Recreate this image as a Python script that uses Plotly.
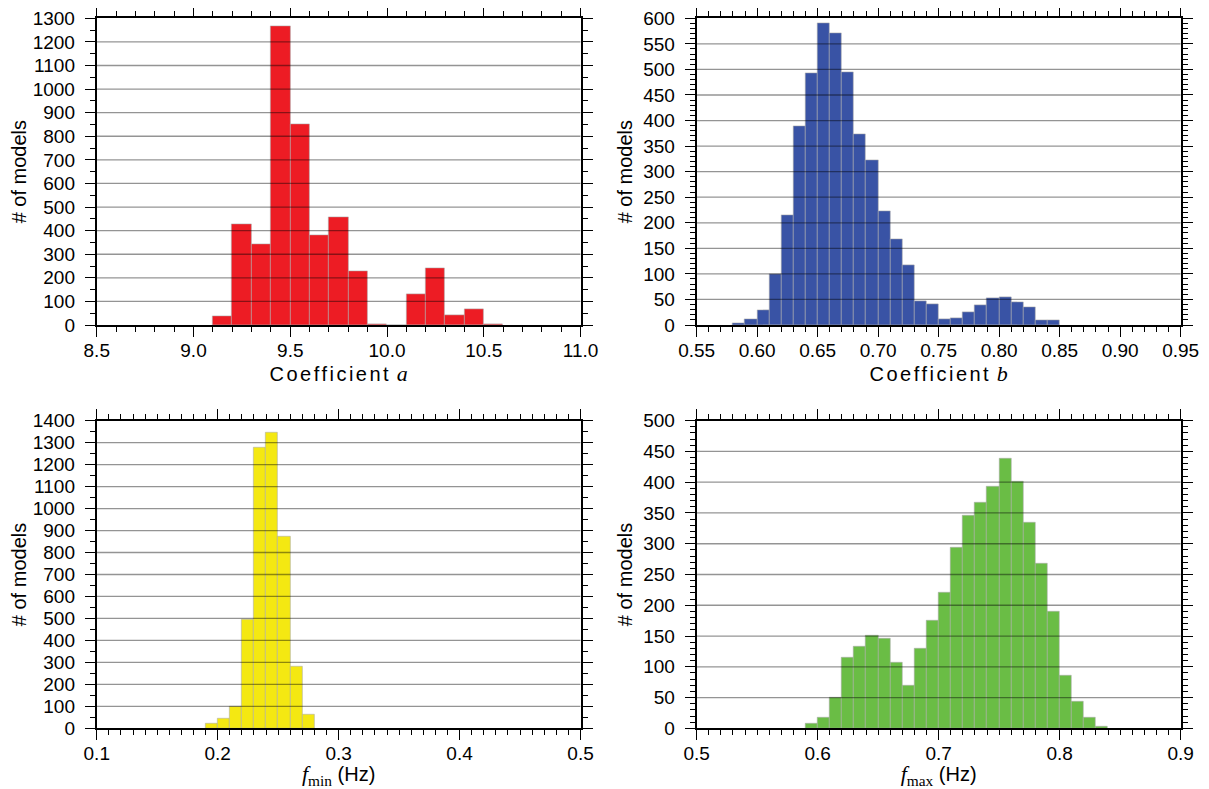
import numpy as np
import plotly.graph_objects as go

# ---------------- data ----------------
a_left = [9.1, 9.2, 9.3, 9.4, 9.5, 9.6, 9.7, 9.8, 9.9, 10.0, 10.1, 10.2, 10.3, 10.4, 10.5]
a_count = [35, 427, 340, 1265, 852, 380, 455, 229, 5, 0, 130, 242, 40, 68, 5]

b_left = [0.58, 0.59, 0.60, 0.61, 0.62, 0.63, 0.64, 0.65, 0.66, 0.67, 0.68, 0.69, 0.70, 0.71,
          0.72, 0.73, 0.74, 0.75, 0.76, 0.77, 0.78, 0.79, 0.80, 0.81, 0.82, 0.83, 0.84]
b_count = [3, 11, 29, 100, 214, 388, 492, 591, 570, 495, 374, 323, 222, 167,
           117, 46, 41, 11, 14, 25, 38, 52, 54, 44, 35, 10, 10]

fmin_left = [0.19, 0.20, 0.21, 0.22, 0.23, 0.24, 0.25, 0.26, 0.27]
fmin_count = [20, 45, 97, 496, 1278, 1347, 874, 281, 64]

fmax_left = [0.59, 0.60, 0.61, 0.62, 0.63, 0.64, 0.65, 0.66, 0.67, 0.68, 0.69, 0.70, 0.71, 0.72,
             0.73, 0.74, 0.75, 0.76, 0.77, 0.78, 0.79, 0.80, 0.81, 0.82, 0.83]
fmax_count = [7, 17, 50, 114, 132, 151, 145, 107, 70, 129, 175, 220, 294, 346,
              366, 393, 439, 401, 334, 268, 190, 86, 43, 17, 2]

SERIF = "font-family:Liberation Serif, Times New Roman, serif;font-size:22px;color:black"
# page body has an 8px margin, so the figure is 8px smaller than the window
W, H = 1201, 781
XDOM_L = [0.0739, 0.4767]
XDOM_R = [0.5734, 0.9764]
YDOM_T = [0.5941, 0.9868]
YDOM_B = [0.0777, 0.4716]

panels = [
    dict(left=a_left, count=a_count, width=0.1, color="#ED1C24",
         xrange=[8.5, 11.0], xdtick=0.5, xminor=0.1, xfmt=".1f",
         yrange=[0, 1300], ydtick=100, yminor=50,
         xtitle=f"<span style='letter-spacing:2.5px'>Coefficient</span> <span style='{SERIF}'><i>a</i></span>",
         tstand=0, dom=(XDOM_L, YDOM_T)),
    dict(left=b_left, count=b_count, width=0.01, color="#3953A5",
         xrange=[0.55, 0.95], xdtick=0.05, xminor=0.01, xfmt=".2f",
         yrange=[0, 600], ydtick=50, yminor=10,
         xtitle=f"<span style='letter-spacing:2.5px'>Coefficient</span> <span style='{SERIF}'><i>b</i></span>",
         tstand=0, dom=(XDOM_R, YDOM_T)),
    dict(left=fmin_left, count=fmin_count, width=0.01, color="#F4E812",
         xrange=[0.1, 0.5], xdtick=0.1, xminor=0.01, xfmt=".1f",
         yrange=[0, 1400], ydtick=100, yminor=50,
         xtitle=f"<span style='{SERIF}'><i>f</i><sub>min</sub></span> (Hz)",
         tstand=12, dom=(XDOM_L, YDOM_B)),
    dict(left=fmax_left, count=fmax_count, width=0.01, color="#6ABD45",
         xrange=[0.5, 0.9], xdtick=0.1, xminor=0.01, xfmt=".1f",
         yrange=[0, 500], ydtick=50, yminor=10,
         xtitle=f"<span style='{SERIF}'><i>f</i><sub>max</sub></span> (Hz)",
         tstand=12, dom=(XDOM_R, YDOM_B)),
]

FONT = "Liberation Sans, Arial, sans-serif"
fig = go.Figure()
shapes = []
for i, p in enumerate(panels, start=1):
    xa = "x" if i == 1 else f"x{i}"
    ya = "y" if i == 1 else f"y{i}"
    fig.add_trace(go.Bar(
        x=p["left"], y=p["count"], width=p["width"], offset=0,
        marker=dict(color=p["color"], line=dict(color="rgba(170,170,170,0.7)", width=0.8)),
        xaxis=xa, yaxis=ya, showlegend=False, hoverinfo="x+y",
    ))
    # horizontal grid lines drawn above bars
    for gy in np.arange(p["ydtick"], p["yrange"][1], p["ydtick"]):
        shapes.append(dict(type="line", xref=f"{xa} domain", yref=ya, x0=0, x1=1, y0=gy, y1=gy,
                           line=dict(color="rgba(0,0,0,0.42)", width=1.3), layer="above"))
    axx = dict(domain=p["dom"][0], range=p["xrange"], dtick=p["xdtick"], tick0=p["xrange"][0],
               tickformat=p["xfmt"], ticks="outside", ticklen=10, tickwidth=1.3, tickcolor="black",
               minor=dict(dtick=p["xminor"], ticks="outside", ticklen=5, tickwidth=1, tickcolor="black"),
               showline=True, linecolor="black", linewidth=2, mirror="ticks", showgrid=False,
               zeroline=False, anchor=ya, automargin=False, ticklabelstandoff=-3,
               ticklabeloverflow="allow",
               tickfont=dict(family=FONT, size=19, color="black"),
               title=dict(text=p["xtitle"], font=dict(family=FONT, size=20, color="black"),
                          standoff=p["tstand"]))
    axy = dict(domain=p["dom"][1], range=p["yrange"], dtick=p["ydtick"], tick0=0,
               ticks="outside", ticklen=10, tickwidth=1.3, tickcolor="black",
               minor=dict(dtick=p["yminor"], ticks="outside", ticklen=5, tickwidth=1, tickcolor="black"),
               showline=True, linecolor="black", linewidth=2, mirror="ticks", showgrid=False,
               zeroline=False, anchor=xa, automargin=False, ticklabelstandoff=6,
               ticklabeloverflow="allow",
               tickfont=dict(family=FONT, size=19, color="black"),
               title=dict(text="# of models", font=dict(family=FONT, size=20, color="black"), standoff=5))
    key = "" if i == 1 else str(i)
    fig.update_layout(**{f"xaxis{key}": axx, f"yaxis{key}": axy})

fig.update_layout(
    width=W, height=H,
    margin=dict(l=0, r=0, t=0, b=0),
    paper_bgcolor="white", plot_bgcolor="white",
    bargap=0, shapes=shapes,
    font=dict(family=FONT, size=19, color="black"),
)
fig.write_html("out.html")
